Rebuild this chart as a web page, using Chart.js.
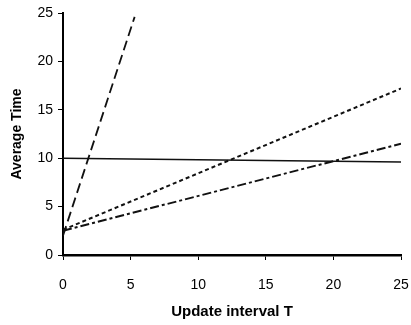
<!DOCTYPE html>
<html><head><meta charset="utf-8">
<script src="https://cdn.jsdelivr.net/npm/chart.js@4"></script>
<style>html,body{margin:0;padding:0;background:#fff}#c{display:block}</style>
</head><body>
<canvas id="c" width="411" height="325"></canvas>
<script>
const xTicks = [0, 5, 10, 15, 20, 25];
const yTicks = [0, 5, 10, 15, 20, 25];
const steepX = [0, 5.3];
const steepY = [2.0, 24.6];
const flatX = [0, 25];
const flatY = [10.0, 9.6];
const dotX = [0, 25];
const dotY = [2.6, 17.2];
const dashDotX = [0, 25];
const dashDotY = [2.5, 11.5];
const xTitle = 'Update interval T';
const yTitle = 'Average Time';

const pts = (xs, ys) => xs.map((x, i) => ({x, y: ys[i]}));
const ds = (xs, ys, dash, w) => ({
  data: pts(xs, ys), borderColor: '#111', borderWidth: w, borderDash: dash,
  pointRadius: 0, showLine: true, fill: false, tension: 0
});

new Chart(document.getElementById('c'), {
  type: 'scatter',
  data: { datasets: [
    ds(steepX, steepY, [10, 5], 1.8),
    ds(flatX, flatY, [], 1.5),
    ds(dotX, dotY, [4, 3], 2),
    ds(dashDotX, dashDotY, [9, 3, 3, 3], 2)
  ]},
  options: {
    responsive: false, animation: false,
    layout: { padding: { top: 13, right: 10, left: 0, bottom: 0 } },
    plugins: { legend: { display: false }, tooltip: { enabled: false } },
    scales: {
      x: {
        type: 'linear', min: 0, max: 25,
        afterBuildTicks: s => { s.ticks = xTicks.map(v => ({value: v})); },
        afterFit: s => { s.height = 70; s.paddingRight = 0; s.paddingLeft = 0; },
        border: { color: '#000', width: 2.5 },
        grid: { drawOnChartArea: false, drawTicks: true, tickLength: 5, color: '#000', tickWidth: 1 },
        ticks: { color: '#000', padding: 17, font: { family: 'Liberation Sans', size: 14 }, maxRotation: 0 },
        title: { display: true, text: xTitle, color: '#000', padding: { top: 4, bottom: 4 }, font: { family: 'Liberation Sans', size: 15, weight: 'bold' } }
      },
      y: {
        type: 'linear', min: 0, max: 25,
        afterBuildTicks: s => { s.ticks = yTicks.map(v => ({value: v})); },
        afterFit: s => { s.width = 63; s.paddingTop = 0; s.paddingBottom = 0; },
        border: { color: '#000', width: 2 },
        grid: { drawOnChartArea: false, drawTicks: true, tickLength: 5, color: '#000', tickWidth: 1 },
        ticks: { color: '#000', padding: 5, font: { family: 'Liberation Sans', size: 14 } },
        title: { display: true, text: yTitle, color: '#000', padding: { top: 9, bottom: 0 }, font: { family: 'Liberation Sans', size: 14, weight: 'bold' } }
      }
    }
  }
});
</script>
</body></html>
